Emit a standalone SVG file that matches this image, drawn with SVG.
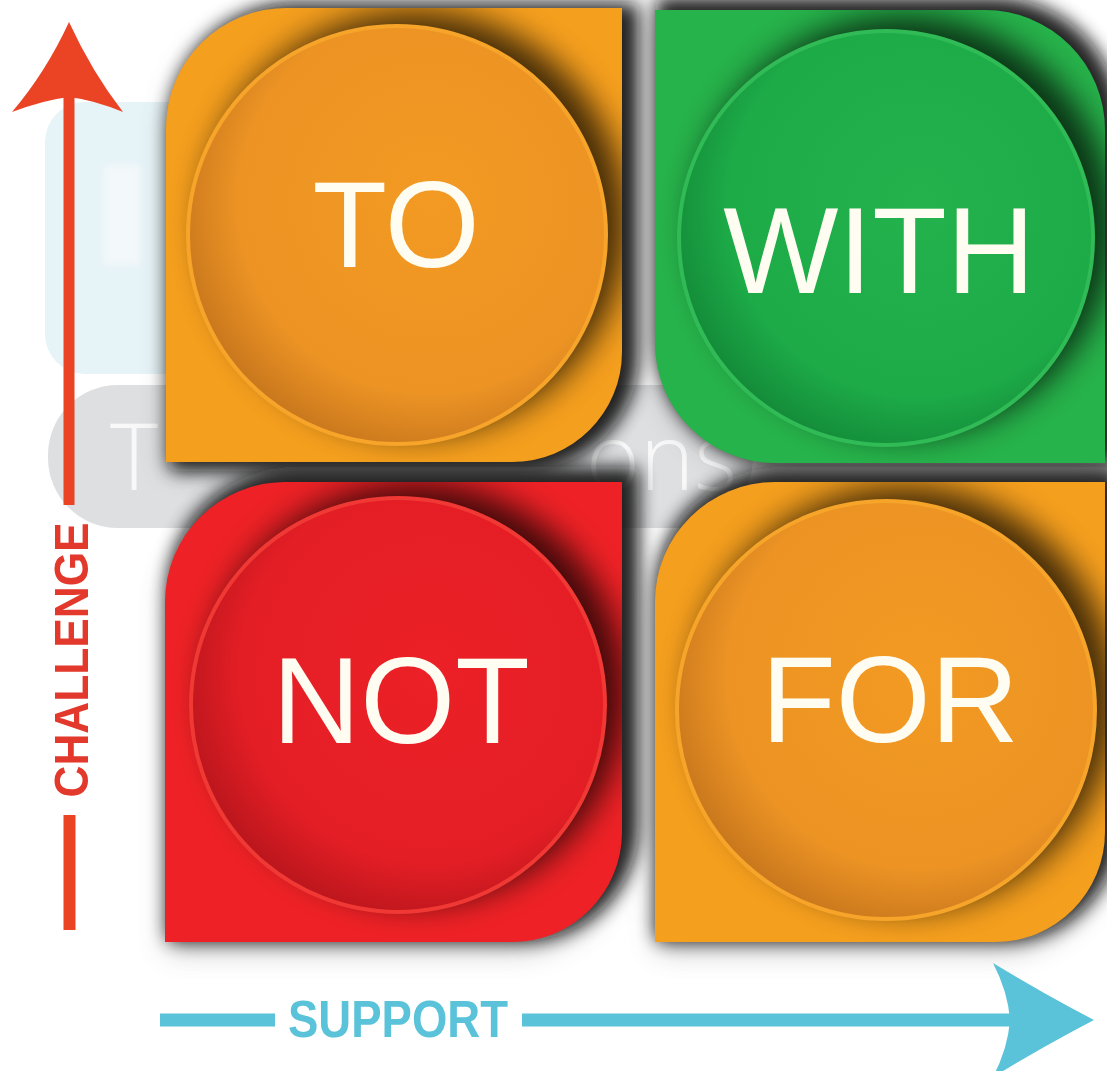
<svg xmlns="http://www.w3.org/2000/svg" width="1107" height="1071" viewBox="0 0 1107 1071">
  <defs>
    <style>
      .lbl { font-family: "Liberation Sans", Arial, sans-serif; font-size: 122px; fill: #FFFDF2; text-anchor: middle; }
      .axis-lbl { font-family: "Liberation Sans", Arial, sans-serif; font-weight: bold; text-anchor: middle; }
      .wm { font-family: "Open Sans", "Liberation Sans", sans-serif; font-weight: 300; fill: #FFFFFF; }
      .qshadow { fill: #0C0C0C; stroke: #0C0C0C; stroke-width: 14; stroke-linejoin: round; filter: url(#blurQ); }
      .qhalo { fill: #707070; filter: url(#blurH); }
      .cshadow { filter: url(#blurC); }
    </style>
    <filter id="blurQ" x="-20%" y="-20%" width="140%" height="140%">
      <feGaussianBlur stdDeviation="9"/>
    </filter>
    <filter id="blurH" x="-20%" y="-20%" width="140%" height="140%">
      <feGaussianBlur stdDeviation="14"/>
    </filter>
    <filter id="blurC" x="-30%" y="-30%" width="160%" height="160%">
      <feGaussianBlur stdDeviation="16"/>
    </filter>
    <filter id="blurW" x="-20%" y="-20%" width="140%" height="140%">
      <feGaussianBlur stdDeviation="3"/>
    </filter>

    <!-- disc fills: light centre, darker rim toward lower left -->
    <radialGradient id="discOrange" cx="0.58" cy="0.42" r="0.64">
      <stop offset="0" stop-color="#F29A22"/>
      <stop offset="0.72" stop-color="#EC9324"/>
      <stop offset="1" stop-color="#C2721C"/>
    </radialGradient>
    <radialGradient id="discGreen" cx="0.58" cy="0.42" r="0.64">
      <stop offset="0" stop-color="#23B24C"/>
      <stop offset="0.72" stop-color="#1DAB48"/>
      <stop offset="1" stop-color="#128536"/>
    </radialGradient>
    <radialGradient id="discRed" cx="0.58" cy="0.42" r="0.64">
      <stop offset="0" stop-color="#EC2027"/>
      <stop offset="0.72" stop-color="#E41E25"/>
      <stop offset="1" stop-color="#B3141B"/>
    </radialGradient>

    <!-- quadrant outlines -->
    <path id="shapeTo" d="M166,128 A120,120 0 0 1 286,8 H622 V352 A110,110 0 0 1 512,462 H166 Z"/>
    <path id="shapeWith" d="M655,10 H985 A120,120 0 0 1 1105,130 V463 H775 A120,120 0 0 1 655,343 Z"/>
    <path id="shapeNot" d="M165,602 A120,120 0 0 1 285,482 H622 V832 A110,110 0 0 1 512,942 H165 Z"/>
    <path id="shapeFor" d="M655,602 A120,120 0 0 1 775,482 H1105 V832 A110,110 0 0 1 995,942 H655 Z"/>

    <clipPath id="clipTo"><use href="#shapeTo"/></clipPath>
    <clipPath id="clipWith"><use href="#shapeWith"/></clipPath>
    <clipPath id="clipNot"><use href="#shapeNot"/></clipPath>
    <clipPath id="clipFor"><use href="#shapeFor"/></clipPath>
  </defs>

  <rect x="0" y="0" width="1107" height="1071" fill="#FFFFFF"/>

  <!-- faint backdrop behind the grid -->
  <g id="backdrop">
    <rect x="45" y="102" width="180" height="272" rx="40" fill="#E6F3F7"/>
    <rect x="104" y="165" width="36" height="100" fill="#F3F8FA" filter="url(#blurW)"/>
    <rect x="48" y="385" width="705" height="143" rx="70" fill="#DEDFE1"/>
    <text class="wm" x="110" y="490" font-size="92" opacity="0.8">T</text>
    <text class="wm" x="586" y="490" font-size="92" opacity="0.8">ons</text>
  </g>

  <!-- cast shadows of the four tiles -->
  <g id="tile-shadows">
    <g opacity="0.45">
      <use href="#shapeTo" class="qhalo" transform="translate(2,6)"/>
      <use href="#shapeWith" class="qhalo" transform="translate(2,6)"/>
      <use href="#shapeNot" class="qhalo" transform="translate(2,8)"/>
      <use href="#shapeFor" class="qhalo" transform="translate(2,8)"/>
    </g>
    <g opacity="0.9">
      <use href="#shapeTo" class="qshadow" transform="translate(10,2)"/>
      <use href="#shapeWith" class="qshadow" transform="translate(8,-6)"/>
      <use href="#shapeNot" class="qshadow" transform="translate(10,-8)"/>
      <use href="#shapeFor" class="qshadow" transform="translate(8,-8)"/>
    </g>
  </g>

  <g id="node-to">
    <use href="#shapeTo" fill="#F59F1E"/>
    <g clip-path="url(#clipTo)">
      <circle class="cshadow" cx="415" cy="223" r="212" fill="#000000" opacity="0.72"/>
    </g>
    <circle cx="397" cy="235" r="209" fill="url(#discOrange)" stroke="#F6A42A" stroke-width="4"/>
    <text class="lbl" x="396" y="267">TO</text>
  </g>

  <g id="node-with">
    <use href="#shapeWith" fill="#27B34B"/>
    <g clip-path="url(#clipWith)">
      <circle class="cshadow" cx="904" cy="226" r="210" fill="#000000" opacity="0.72"/>
    </g>
    <circle cx="886" cy="238" r="207" fill="url(#discGreen)" stroke="#31BB56" stroke-width="4"/>
    <text class="lbl" x="879" y="293">WITH</text>
  </g>

  <g id="node-not">
    <use href="#shapeNot" fill="#EE2226"/>
    <g clip-path="url(#clipNot)">
      <circle class="cshadow" cx="416" cy="693" r="210" fill="#000000" opacity="0.72"/>
    </g>
    <circle cx="398" cy="705" r="207" fill="url(#discRed)" stroke="#F03834" stroke-width="4"/>
    <text class="lbl" x="401" y="743">NOT</text>
  </g>

  <g id="node-for">
    <use href="#shapeFor" fill="#F59F1E"/>
    <g clip-path="url(#clipFor)">
      <circle class="cshadow" cx="904" cy="698" r="212" fill="#000000" opacity="0.72"/>
    </g>
    <circle cx="886" cy="710" r="209" fill="url(#discOrange)" stroke="#F6A42A" stroke-width="4"/>
    <text class="lbl" x="890" y="742">FOR</text>
  </g>

  <!-- axes -->
  <g id="connectors">
    <!-- vertical: challenge -->
    <g fill="#EB4424" stroke="none">
      <rect x="63.5" y="95" width="11" height="410"/>
      <rect x="63.5" y="815" width="12" height="115"/>
      <path d="M69,22 Q92,72 123,112 Q94,100 69,97 Q44,100 12,112 Q46,72 69,22 Z"/>
    </g>
    <text class="axis-lbl" x="0" y="0" font-size="48" fill="#E2392C" textLength="275" lengthAdjust="spacingAndGlyphs" transform="translate(88,660) rotate(-90)">CHALLENGE</text>

    <!-- horizontal: support -->
    <g fill="#5BC3D9" stroke="none">
      <rect x="160" y="1013.5" width="115" height="13"/>
      <rect x="522" y="1013.5" width="490" height="13"/>
      <path d="M1094,1020 Q1044,994 993,963 Q1008,992 1010,1020 Q1008,1048 993,1077 Q1044,1046 1094,1020 Z"/>
    </g>
    <text class="axis-lbl" x="398" y="1037" font-size="51" fill="#5BC3D9" textLength="220" lengthAdjust="spacingAndGlyphs">SUPPORT</text>
  </g>
</svg>
